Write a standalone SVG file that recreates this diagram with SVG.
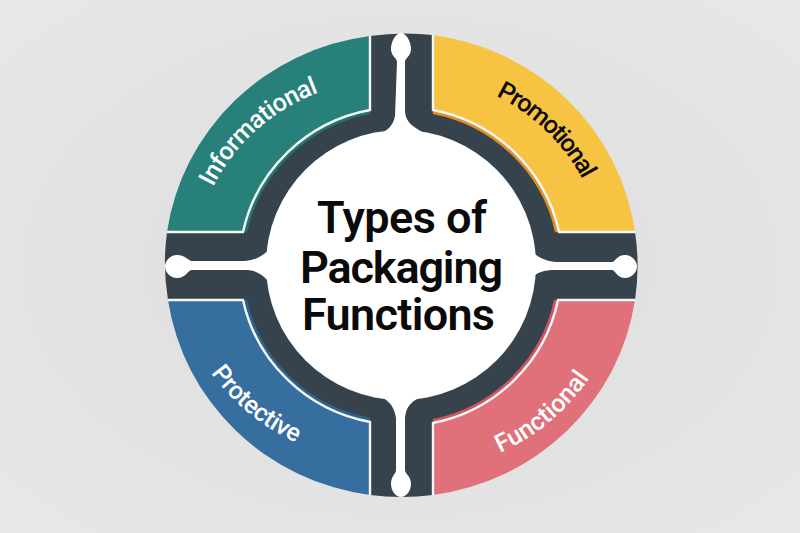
<svg xmlns="http://www.w3.org/2000/svg" width="800" height="533" viewBox="0 0 800 533">
  <style>
    .edge { fill: none; stroke: #f4f7f6; stroke-width: 2.4; }
    .strip { fill: none; stroke-width: 4; }
    .label { font-family: Roboto, "Liberation Sans", sans-serif; font-size: 25px; font-weight: 500; }
    .title { font-family: Roboto, "Liberation Sans", sans-serif; font-size: 45px; font-weight: 600; fill: #0a0a0a; text-anchor: middle; }
    .hub { fill: #ffffff; }
  </style>
  <defs>
    <radialGradient id="bg" cx="0.5" cy="0.5" r="0.75">
      <stop offset="0" stop-color="#dddddd"/>
      <stop offset="1" stop-color="#e8e8e8"/>
    </radialGradient>
    <path id="p-info" d="M213,187 A195,195 0 0 1 320,92"/>
    <path id="p-promo" d="M496,96 A196,196 0 0 1 583,180"/>
    <path id="p-prot" d="M211,373 A212,212 0 0 0 297,443"/>
    <path id="p-func" d="M500,453 A215,215 0 0 0 590,377"/>
  </defs>
  <rect width="800" height="533" fill="url(#bg)"/>
  <g id="connectors">
    <path fill="#36434d" d="M370,36 A236,231 0 0 1 433,35 L433,110 A160,158 0 0 1 559,232 L635,232 A236,231 0 0 1 635,300 L558,300 A160,158 0 0 1 433,423 L433,495 A236,231 0 0 1 370,495 L370,422 A160,158 0 0 1 243,300 L168,300 A236,231 0 0 1 167,232 L243,232 A160,158 0 0 1 370,110 Z"/>
    <path class="hub" d="M378,135 C388,130 393,126 395,116 L397,62 C397,58 391,56 391,49 C391,41 396,33 401,33 C406,33 411,41 411,49 C411,56 405,58 405,62 L405,112 C406,122 412,126 424,133 Z"/>
    <path class="hub" d="M376,395 C386,398 394,404 396,418 L396,470 C396,474 391,476 391,484 C391,491 396,497 401,497 C406,497 411,491 411,484 C411,476 405,474 405,470 L405,418 C406,406 412,400 426,395 Z"/>
    <path class="hub" d="M269,250 C262,256 256,260 245,261 L192,261 C188,261 186,255 177,255 C170,255 165,261 165,266.5 C165,272 170,278 177,278 C186,278 188,270 192,270 L245,270 C256,270 262,274 269,282 Z"/>
    <path class="hub" d="M530,250 C536,256 545,261 555,262 L612,262 C615,262 617,255 625,255 C632,255 637,261 637,266.5 C637,272 632,278 625,278 C617,278 615,270 612,270 L555,270 C545,270 536,272 530,280 Z"/>
  </g>
  <g id="node-informational">
    <path fill="#27807a" d="M370,36 A236,231 0 0 0 167,232 L243,232 A160,158 0 0 1 370,110 Z"/>
    <path class="strip" stroke="#237570" d="M245,232 A158,156 0 0 1 370,112"/>
    <path class="edge" d="M370,36 L370,110 A160,158 0 0 0 243,232 L167,232"/>
    <text class="label" fill="#ffffff"><textPath href="#p-info" textLength="145">Informational</textPath></text>
  </g>
  <g id="node-promotional">
    <path fill="#f6c343" d="M433,35 A236,231 0 0 1 635,232 L559,232 A160,158 0 0 0 433,110 Z"/>
    <path class="strip" stroke="#e08f28" d="M433,112 A158,156 0 0 1 557,232"/>
    <path class="edge" d="M433,35 L433,110 A160,158 0 0 1 559,232 L635,232"/>
    <text class="label" fill="#0a0a0a"><textPath href="#p-promo" textLength="122">Promotional</textPath></text>
  </g>
  <g id="node-protective">
    <path fill="#356e9f" d="M168,300 A236,231 0 0 0 370,495 L370,422 A160,158 0 0 1 243,300 Z"/>
    <path class="strip" stroke="#2f638f" d="M245,300 A158,156 0 0 0 370,420"/>
    <path class="edge" d="M168,300 L243,300 A160,158 0 0 0 370,422 L370,495"/>
    <text class="label" fill="#ffffff"><textPath href="#p-prot" textLength="111">Protective</textPath></text>
  </g>
  <g id="node-functional">
    <path fill="#e0707a" d="M635,300 A236,231 0 0 1 433,495 L433,423 A160,158 0 0 0 558,300 Z"/>
    <path class="strip" stroke="#cf5562" d="M556,300 A158,156 0 0 1 433,421"/>
    <path class="edge" d="M635,300 L558,300 A160,158 0 0 1 433,423 L433,495"/>
    <text class="label" fill="#ffffff"><textPath href="#p-func" textLength="118">Functional</textPath></text>
  </g>
  <g id="node-center">
    <circle class="hub" cx="401" cy="265" r="135"/>
    <text class="title" x="402" y="233" textLength="170">Types of</text>
    <text class="title" x="401.5" y="283" textLength="203">Packaging</text>
    <text class="title" x="398.5" y="330" textLength="193">Functions</text>
  </g>
</svg>
